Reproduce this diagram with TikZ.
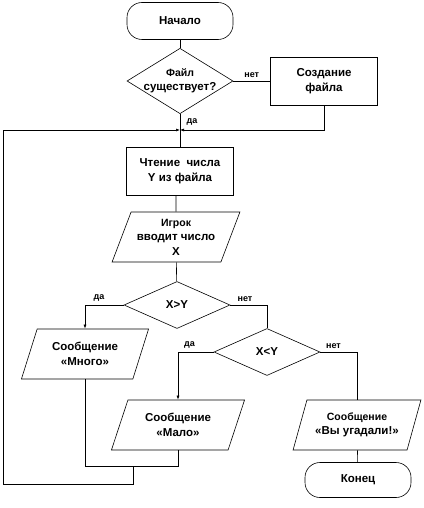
\documentclass[tikz,border=0pt]{standalone}
\usepackage{fontspec}
\setmainfont{Liberation Sans}
\usetikzlibrary{positioning,shapes.geometric,arrows.meta}

\begin{document}
\begin{tikzpicture}[x=1pt,y=-1pt,line width=0.6pt,
      font=\bfseries\fontsize{11.5}{14.5}\selectfont,
      term/.style={draw,rounded corners=15pt,minimum width=106pt,minimum height=37pt,align=center},
      proc/.style={draw,minimum width=107pt,minimum height=48pt,align=center},
      cond/.style={draw,diamond,inner sep=-8pt,minimum width=106pt,minimum height=47pt,align=center},
      io/.style={draw,trapezium,trapezium left angle=66,trapezium right angle=114,trapezium stretches=true,
        minimum width=128pt,minimum height=50pt,inner sep=1pt,align=center},
      lbl/.style={font=\bfseries\fontsize{9}{10}\selectfont},
      arr/.style={-{Latex[length=4pt,width=3pt]}}]
    \useasboundingbox (0,0) rectangle (423,508);
    \node[term] (start) at (180,21) {Начало};
    \node[cond] (exists) at (180,81) {\fontsize{10.5}{13}\selectfont Файл\\ существует?};
    \node[proc] (create) at (324,81) {Создание\\ файла};
    \node[proc] (readY) at (180,171) {Чтение\ \ числа\\ Y из файла};
    \node[io] (inputX) at (176,237) {\fontsize{10.5}{13.5}\selectfont Игрок\\ вводит число\\ X};
    \node[cond] (gtY) at (177,305) {X>Y};
    \node[io] (many) at (85,354) {Сообщение\\ «Много»};
    \node[cond] (ltY) at (267,352) {X<Y};
    \node[io,minimum width=134pt] (few) at (178,425) {Сообщение\\ «Мало»};
    \node[io] (guess) at (357,425) {\fontsize{10.5}{14}\selectfont Сообщение\\ «Вы угадали!»};
    \node[term,minimum height=35pt] (finish) at (358,480) {Конец};
    \coordinate (join) at (180,130);
    \coordinate (merge) at (133,466);
    \coordinate (corner) at (3,484);
    % start and file check
    \draw (start) -- (exists);
    \draw (exists) -- node[lbl,above]{нет} (create);
    \draw (exists) -- node[lbl,pos=0.25,right=3pt]{да} (readY);
    \draw[arr] (create) |- (join);
    \draw (readY.south -| inputX) -- (inputX);
    \draw (inputX) -- (gtY);
    % comparisons
    \draw[arr] (gtY) -| node[lbl,pos=0.32,above]{да} (many);
    \draw (gtY) -| node[lbl,pos=0.2,above]{нет} (ltY);
    \draw[arr] (ltY) -| node[lbl,pos=0.34,above]{да} (few);
    \draw (ltY) -| node[lbl,pos=0.18,above]{нет} (guess);
    \draw (guess) -- (finish);
    % back to the input
    \draw (many) |- (merge);
    \draw (few) |- (merge);
    \draw[arr] (merge) |- (corner) |- (join);
  \end{tikzpicture}
\end{document}
